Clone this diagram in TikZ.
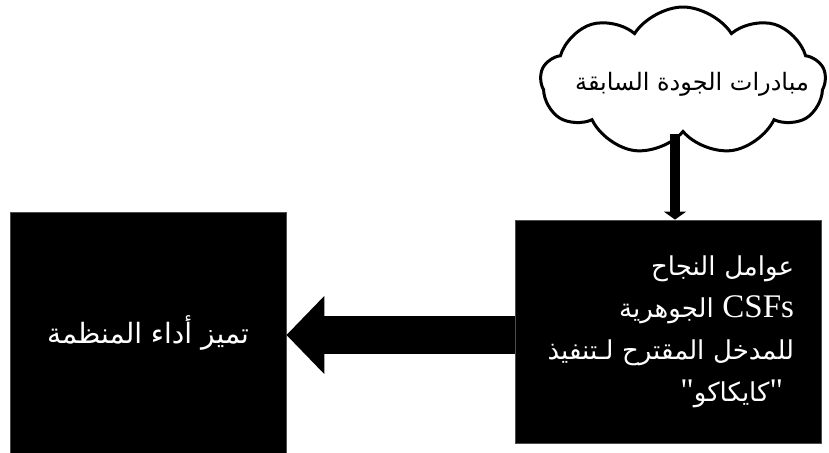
\documentclass[tikz,border=0pt]{standalone}
\usepackage{fontspec}
\setmainfont{Liberation Serif}
\newfontfamily\arabicfont[Script=Arabic]{DejaVu Sans}
\newfontfamily\latinfont[Ligatures=TeXOff]{Liberation Serif}
\TeXXeTstate=1
\usetikzlibrary{shapes.symbols,arrows.meta}
\tikzset{
  blackbox/.style={rectangle, fill=black, draw=black!70, line width=0.8pt,
    text=white, inner sep=0pt},
  bigarrow/.style={line width=38pt, -{Triangle[length=38pt,width=76pt]}},
  thinarrow/.style={line width=10pt, -{Triangle[length=8pt,width=22pt]}},
}
\newcommand{\lat}[1]{{\latinfont\fontsize{33}{42}\selectfont #1}}
\begin{document}
\begin{tikzpicture}[x=1pt,y=-1pt]
\useasboundingbox[fill=white] (0,0) rectangle (829,452);
% cloud
\node[cloud, cloud puffs=9, cloud puff arc=115, draw=black, fill=white,
  line width=3pt, minimum width=285pt, minimum height=148pt, inner sep=0pt]
  (C) at (683,81) {};
\node[font=\arabicfont\fontsize{24}{30}\selectfont, text=black, inner sep=0pt]
  (Ct) at (692,84) {\beginR مبادرات الجودة السابقة\endR};
% boxes
\node[blackbox, minimum width=276pt, minimum height=241pt,
  font=\arabicfont\fontsize{28}{42}\selectfont] (L) at (148,332.5)
  {\raisebox{4pt}{\beginR تميز أداء المنظمة\endR}};
\node[blackbox, minimum width=306pt, minimum height=223pt,
  text width=252pt, align=right, font=\arabicfont\fontsize{26}{42}\selectfont]
  (R) at (668,331.5)
  {\beginR عوامل النجاح\endR\\
   \beginR\lat{\beginL CSFs\endL} الجوهرية\endR\\
   \beginR للمدخل المقترح لـتنفيذ\endR\\
   \beginR\lat{"}كايكاكو\lat{"}\endR\hspace*{11pt}};
% connectors
\coordinate (ay) at (0,335);
\draw[bigarrow] (R.west |- ay) -- (L.east |- ay);
\draw[thinarrow] ([xshift=-8pt]C.south) -- ([xshift=-8pt]C.south |- R.north);
\end{tikzpicture}
\end{document}
